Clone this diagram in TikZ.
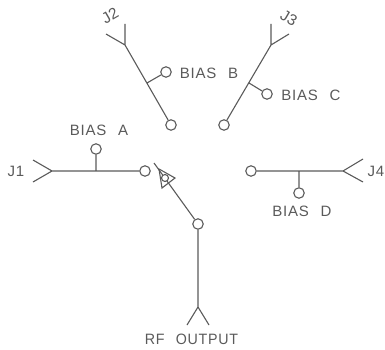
\documentclass[tikz,border=0pt]{standalone}
\usepackage{fontspec}
\setmainfont[LetterSpace=5,WordSpace=2.4]{Liberation Sans}
\newfontfamily\plainfont{Liberation Sans}
\definecolor{ink}{HTML}{5A5A5A}
\tikzset{
 wire/.style={draw=ink,line width=1.1pt},
 term/.style={circle,draw=ink,line width=1.1pt,fill=white,minimum size=10.5pt,inner sep=0pt},
 lab/.style={text=ink,font=\fontsize{15}{15}\selectfont,inner sep=0pt},
 slab/.style={text=ink,font=\plainfont\fontsize{15.5}{15.5}\selectfont,inner sep=0pt}
}
\begin{document}
\begin{tikzpicture}[x=1pt,y=-1pt]
\useasboundingbox (0,0) rectangle (385,350);
% J1
\coordinate (j1) at (52,171); \coordinate (j1a) at (33,160); \coordinate (j1b) at (33,182);
\coordinate (ja) at (96,171);
\node[term] (t1) at (145,171) {};
\node[term] (ba) at (96,149) {};
\draw[wire] (j1a) -- (j1) -- (j1b) (j1) -- (t1) (ja) -- (ba);
% J2
\coordinate (j2) at (125,45); \coordinate (j2a) at (125,24); \coordinate (j2b) at (106,34);
\coordinate (jb) at (147,83);
\node[term] (t2) at (171,125) {};
\node[term] (bb) at (166,72) {};
\draw[wire] (j2a) -- (j2) -- (j2b) (j2) -- (t2) (jb) -- (bb);
% J3
\coordinate (j3) at (271,45); \coordinate (j3a) at (271,24); \coordinate (j3b) at (289,34);
\coordinate (jc) at (249,83);
\node[term] (t3) at (224,125) {};
\node[term] (bc) at (267,94) {};
\draw[wire] (j3a) -- (j3) -- (j3b) (j3) -- (t3) (jc) -- (bc);
% J4
\coordinate (j4) at (343,171); \coordinate (j4a) at (363,159); \coordinate (j4b) at (363,182);
\coordinate (jd) at (299,171);
\node[term] (t4) at (251,171) {};
\node[term] (bd) at (299,193) {};
\draw[wire] (j4a) -- (j4) -- (j4b) (j4) -- (t4) (jd) -- (bd);
% RF output and switch arm
\coordinate (rf) at (198,307); \coordinate (rfa) at (187,325); \coordinate (rfb) at (209,325);
\coordinate (arm) at (154,163);
\node[term] (tr) at (198,224) {};
\draw[wire] (rfa) -- (rf) -- (rfb) (rf) -- (tr) (tr) -- (arm);
\draw[wire] (159,169) -- (175,178) -- (162,188) -- cycle;
\node[circle,draw=ink,line width=1.1pt,fill=white,minimum size=7pt,inner sep=0pt] (piv) at (165,178) {};
% Labels
\node[lab] (l1) at (16,171) {J1};
\node[slab,rotate=30] (l2) at (110,16) {J2};
\node[slab,rotate=-30] (l3) at (289,18) {J3};
\node[lab] (l4) at (376,171) {J4};
\node[lab] (la) at (99,130) {BIAS A};
\node[lab] (lb) at (209,73) {BIAS B};
\node[lab] (lc) at (311,95) {BIAS C};
\node[lab] (ld) at (302,211) {BIAS D};
\node[lab,xscale=0.95] (lr) at (191.5,339) {RF OUTPUT};
\end{tikzpicture}
\end{document}
